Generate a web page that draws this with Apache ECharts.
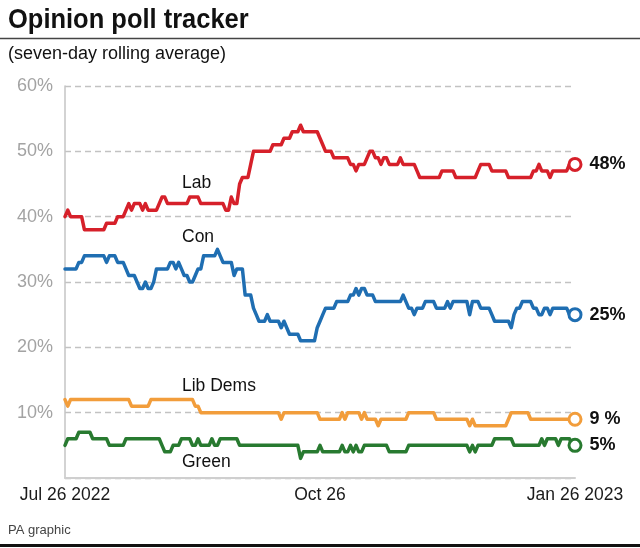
<!DOCTYPE html>
<html><head><meta charset="utf-8">
<script src="https://cdn.jsdelivr.net/npm/echarts@6/dist/echarts.min.js"></script>
<style>html,body{margin:0;padding:0;background:#fff}#c{width:640px;height:548px}</style>
</head><body><div id="c"></div>
<script>
// Days since Jul 26 2022 (0 .. 184 = Jan 26 2023)
const xTickDays = [0, 92, 184];
const xTickLabels = ['Jul 26 2022', 'Oct 26', 'Jan 26 2023'];
const yTickValues = [10, 20, 30, 40, 50, 60];

const lab = [
 40,41,40,40,40,40,40,38,38,38,
 38,38,38,38,38,39,39,39,39,40,
 40,40,41,42,41,42,42,42,41,42,
 41,41,41,41,42,43,43,42,42,42,
 42,42,42,42,42,43,43,43,43,42,
 42,42,42,42,42,42,42,42,41,41,
 43,42,42,45,46,46,46,48,50,50,
 50,50,50,50,50,51,51,51,51,52,
 52,52,53,53,53,54,53,53,53,53,
 53,53,52,51,50,50,50,49,49,49,
 49,49,49,48,48,47,48,48,48,49,
 50,50,49,49,48,49,49,48,48,48,
 48,49,48,48,48,48,48,47,46,46,
 46,46,46,46,46,46,47,47,47,47,
 47,46,46,46,46,46,46,46,46,47,
 48,48,48,48,47,47,47,47,47,47,
 46,46,46,46,46,46,46,46,46,47,
 47,48,47,47,47,46,47,47,47,47,
 47,47,48,48,48
];
const con = [
 32,32,32,32,32,33,33,34,34,34,
 34,34,34,34,34,33,34,34,34,33,
 33,33,32,31,31,31,30,29,29,30,
 29,29,30,32,32,32,32,32,33,33,
 32,33,32,31,31,30,30,31,32,32,
 34,34,34,34,34,35,34,33,33,33,
 33,31,32,32,32,28,28,28,26,25,
 24,24,24,25,24,24,24,24,23,24,
 23,22,22,22,22,21,21,21,21,21,
 21,23,24,25,26,26,26,26,27,27,
 27,27,27,28,28,29,28,29,29,28,
 28,28,27,27,27,27,27,27,27,27,
 27,27,28,27,26,26,25,26,26,26,
 27,27,27,27,26,26,26,26,27,26,
 27,27,27,27,27,27,25,27,27,27,
 26,26,26,26,25,24,24,24,24,24,
 24,23,25,26,26,27,27,27,27,26,
 26,25,25,26,26,25,26,26,26,26,
 26,26,25,25,25
];
const libDems = [
 12,11,12,12,12,12,12,12,12,12,
 12,12,12,12,12,12,12,12,12,12,
 12,12,12,12,11,11,11,11,11,11,
 11,12,12,12,12,12,12,12,12,12,
 12,12,12,12,12,12,12,11,11,10,
 10,10,10,10,10,10,10,10,10,10,
 10,10,10,10,10,10,10,10,10,10,
 10,10,10,10,10,10,10,10,9,10,
 10,10,10,10,10,10,10,10,10,10,
 10,10,9,9,9,9,9,9,9,9,
 10,9,10,10,10,10,10,9,10,9,
 9,9,9,8,9,9,9,9,9,9,
 9,9,9,9,10,10,10,10,10,10,
 10,10,10,10,9,9,9,9,9,9,
 9,9,9,9,9,9,8,9,8,8,
 8,8,8,8,8,8,8,8,8,8,
 9,10,10,10,10,10,10,10,9,9,
 9,9,9,9,9,9,9,9,9,9,
 9,9,9,9,9
];
const green = [
 5,6,6,6,6,7,7,7,7,7,
 6,6,6,6,6,6,5,5,5,5,
 5,5,6,6,6,6,6,6,6,6,
 6,6,6,6,6,5,4,4,4,5,
 5,5,6,6,6,6,5,5,6,5,
 5,5,5,6,5,5,6,6,6,6,
 6,6,6,5,5,5,5,5,5,5,
 5,5,5,5,5,5,5,5,5,5,
 5,5,5,5,5,3,4,4,4,4,
 4,4,5,4,4,4,4,4,4,4,
 5,4,4,5,4,5,4,4,5,5,
 5,5,5,5,5,5,5,4,4,4,
 4,4,4,4,5,5,5,5,5,5,
 5,5,5,5,5,5,5,5,5,5,
 5,5,5,5,5,5,4,5,4,5,
 5,5,5,5,5,6,6,6,6,6,
 6,6,5,5,5,5,5,5,5,5,
 5,5,6,5,6,6,6,6,5,6,
 6,6,6,5,5
];

const seriesNames = ['Lab', 'Con', 'Lib Dems', 'Green'];
const endLabels = ['48%', '25%', '9 %', '5%'];
const seriesValues = [lab, con, libDems, green];
const colors = ['#d6202a', '#1f6eb2', '#f29d3b', '#287a30'];

const FONT = '"Liberation Sans", Arial, sans-serif';
const chart = echarts.init(document.getElementById('c'), null, {renderer: 'canvas'});

const lineSeries = seriesValues.map((arr, k) => ({
  type: 'line', name: seriesNames[k], data: arr.map((v, i) => [i, v]),
  showSymbol: false, symbol: 'none', animation: false,
  lineStyle: {color: colors[k], width: 3.5, join: 'round', cap: 'round'},
  z: 3
}));
const endSeries = seriesValues.map((arr, k) => ({
  type: 'scatter', data: [[arr.length - 1, arr[arr.length - 1]]],
  symbol: 'circle', symbolSize: 12, animation: false, z: 5,
  itemStyle: {color: '#fff', borderColor: colors[k], borderWidth: 3, opacity: 1},
  label: {show: true, position: 'right', distance: 7, formatter: endLabels[k],
    color: '#111', fontSize: 18, fontWeight: 'bold', fontFamily: FONT}
}));

const nameLabelPos = [[182, 183], [182, 237], [182, 386], [182, 462]];

chart.setOption({
  animation: false,
  grid: {left: 65, right: 65, top: 86, bottom: 70, containLabel: false},
  xAxis: {
    type: 'value', min: 0, max: 184, interval: 92,
    axisLine: {show: true, lineStyle: {color: '#cfcfcf', width: 2}},
    axisTick: {show: false}, splitLine: {show: false},
    axisLabel: {show: true, showMinLabel: true, showMaxLabel: true, margin: 8,
      color: '#1a1a1a', fontSize: 17.5, fontFamily: FONT,
      formatter: v => { const i = xTickDays.indexOf(v); return i >= 0 ? xTickLabels[i] : ''; }}
  },
  yAxis: {
    type: 'value', min: 0, max: 60, interval: 10,
    axisLine: {show: true, lineStyle: {color: '#c4c4c4', width: 1.5}},
    axisTick: {show: false},
    splitLine: {show: true, lineStyle: {color: '#c2c2c2', width: 1.3, type: [6, 4]}},
    axisLabel: {margin: 12, color: '#a3a3a3', fontSize: 18, fontFamily: FONT,
      formatter: v => yTickValues.indexOf(v) >= 0 ? v + '%' : ''}
  },
  series: lineSeries.concat(endSeries),
  graphic: [
    {type: 'text', left: 8, top: 6, style: {text: 'Opinion poll tracker', font: 'bold 28px ' + FONT, fill: '#111'}, scaleX: 0.91},
    {type: 'line', shape: {x1: 0, y1: 38.5, x2: 640, y2: 38.5}, style: {stroke: '#444', lineWidth: 1.5}},
    {type: 'text', left: 8, top: 45, style: {text: '(seven-day rolling average)', font: '18px ' + FONT, fill: '#111'}},
    ...seriesNames.map((n, k) => ({type: 'text', x: nameLabelPos[k][0], y: nameLabelPos[k][1],
      style: {text: n, font: '17.5px ' + FONT, fill: '#111', textVerticalAlign: 'middle', verticalAlign: 'middle'}})),
    {type: 'text', left: 8, top: 524, style: {text: 'PA graphic', font: '13px ' + FONT, fill: '#444'}},
    {type: 'rect', shape: {x: 0, y: 544, width: 640, height: 3}, style: {fill: '#111'}}
  ]
});
</script></body></html>
